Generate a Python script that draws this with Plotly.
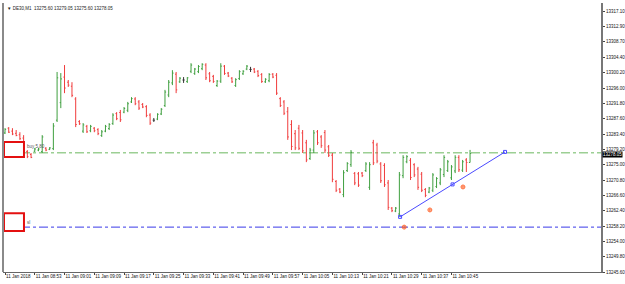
import plotly.graph_objects as go

# ---- data (DE30, M1, 11 Jan 2018 from 08:45, one bar per minute) ----
opens = [13283.7,13285.0,13284.2,13283.6,13283.2,13282.3,13278.6,13277.8,13278.7,13279.0,
         13278.6,13279.5,13279.2,13279.4,13287.2,13292.0,13299.0,13297.6,13296.5,13293.0,
         13286.8,13284.2,13285.5,13284.3,13285.0,13284.6,13283.0,13284.2,13284.9,13286.3,
         13289.0,13289.3,13289.4,13289.9,13292.2,13293.0,13292.2,13291.5,13290.9,13288.6,
         13287.2,13287.5,13288.9,13291.2,13294.1,13297.4,13299.8,13297.7,13298.2,13297.8,
         13300.6,13300.0,13300.5,13301.3,13302.3,13299.9,13299.2,13296.7,13297.9,13302.0,
         13300.1,13298.7,13296.7,13298.6,13299.9,13301.2,13301.1,13301.2,13300.6,13299.7,
         13297.7,13298.0,13299.8,13299.5,13293.1,13292.2,13289.5,13286.0,13283.5,13285.0,
         13283.7,13281.0,13276.7,13279.0,13284.0,13282.6,13283.8,13279.9,13277.6,13270.4,
         13268.3,13266.8,13273.4,13275.0,13272.6,13272.5,13272.7,13273.4,13268.8,13281.0,
         13280.4,13275.2,13274.8,13270.0,13263.1,13262.3,13261.5,13272.0,13275.8,13276.2,
         13275.0,13273.8,13272.4,13268.2,13267.5,13268.0,13269.0,13270.0,13272.3,13273.4,
         13271.4,13273.3,13277.0,13273.5,13276.3,13275.60]
highs = [13285.0,13285.3,13285.0,13284.5,13283.9,13283.1,13279.0,13278.2,13279.6,13279.6,
         13283.1,13279.8,13279.8,13286.4,13300.4,13300.1,13302.3,13298.2,13297.6,13293.5,
         13287.2,13286.4,13285.9,13285.9,13285.3,13285.0,13284.5,13285.9,13286.4,13289.1,
         13289.4,13290.0,13290.8,13292.2,13293.5,13293.5,13292.7,13291.9,13291.3,13289.1,
         13287.8,13289.1,13290.5,13295.5,13298.2,13300.9,13300.4,13299.0,13299.0,13299.0,
         13302.8,13301.5,13302.3,13302.8,13302.8,13300.4,13299.6,13298.2,13302.8,13302.3,
         13300.4,13299.0,13298.7,13300.9,13300.9,13302.3,13301.8,13301.5,13300.9,13300.1,
         13298.7,13300.1,13300.1,13300.1,13293.5,13292.7,13290.8,13287.2,13284.5,13285.9,
         13284.5,13281.8,13279.6,13284.5,13284.5,13283.1,13284.5,13280.4,13278.2,13270.8,
         13268.6,13273.5,13275.7,13279.0,13273.0,13273.0,13273.0,13275.7,13275.7,13281.8,
         13281.0,13275.7,13275.4,13270.8,13263.4,13263.4,13273.0,13277.6,13277.6,13276.8,
         13275.4,13274.4,13273.0,13268.6,13268.9,13272.7,13271.6,13274.1,13277.6,13276.3,
         13274.9,13277.6,13277.6,13276.3,13276.8,13279.05]
lows = [13283.4,13283.7,13283.1,13282.8,13281.8,13281.0,13276.8,13276.8,13278.5,13278.7,
        13278.2,13278.7,13279.0,13279.0,13286.7,13290.5,13294.6,13296.3,13293.5,13285.3,
        13285.9,13283.7,13283.7,13283.9,13283.9,13283.1,13282.6,13283.9,13284.5,13285.9,
        13287.2,13286.7,13289.1,13289.4,13291.9,13291.3,13290.0,13290.5,13288.0,13285.9,
        13286.7,13287.2,13288.6,13290.8,13293.5,13296.8,13294.6,13297.4,13297.4,13297.4,
        13300.1,13299.6,13300.1,13300.9,13298.2,13297.6,13297.4,13296.3,13297.4,13299.6,
        13299.0,13297.4,13296.3,13298.2,13299.6,13300.9,13300.4,13300.1,13299.0,13297.4,
        13297.4,13297.6,13298.7,13294.1,13290.8,13288.6,13281.8,13279.0,13279.0,13279.0,
        13278.2,13275.7,13276.3,13278.2,13280.4,13279.6,13278.2,13277.1,13270.2,13267.5,
        13267.2,13266.1,13273.0,13274.4,13269.4,13268.9,13271.6,13273.0,13268.1,13274.9,
        13275.4,13270.0,13268.9,13262.6,13262.0,13262.0,13260.7,13271.3,13275.4,13270.8,
        13271.6,13268.1,13267.5,13266.1,13267.2,13267.5,13268.6,13269.4,13271.6,13273.0,
        13270.8,13272.7,13273.0,13273.0,13273.0,13275.60]
closes = [13284.7,13283.9,13283.4,13283.0,13282.1,13281.3,13277.2,13277.0,13279.3,13279.3,
          13282.6,13279.0,13279.6,13285.6,13298.8,13298.5,13296.0,13296.8,13294.0,13286.0,
          13286.2,13285.9,13284.0,13285.5,13284.3,13283.5,13284.0,13285.5,13286.0,13288.6,
          13287.6,13287.3,13290.4,13291.7,13293.1,13291.7,13290.5,13290.8,13288.5,13286.4,
          13287.2,13288.8,13290.2,13294.9,13297.6,13300.1,13295.5,13298.7,13298.2,13298.8,
          13302.3,13301.2,13301.9,13302.5,13298.8,13298.0,13297.8,13297.9,13302.0,13300.0,
          13299.3,13297.7,13298.3,13300.5,13300.6,13302.0,13301.1,13300.4,13299.4,13297.8,
          13298.4,13299.7,13299.0,13294.6,13291.2,13289.1,13282.6,13280.0,13279.6,13279.5,
          13278.8,13276.3,13279.0,13283.7,13281.0,13280.2,13279.0,13277.6,13271.0,13268.0,
          13267.5,13272.8,13275.3,13278.4,13270.0,13269.4,13272.0,13275.2,13275.0,13275.5,
          13276.0,13270.6,13269.5,13263.3,13262.4,13263.1,13272.2,13277.0,13277.2,13271.5,
          13272.2,13268.8,13268.0,13266.6,13268.6,13272.2,13271.2,13273.6,13277.0,13275.8,
          13274.4,13277.0,13273.6,13275.8,13275.6,13278.05]

time_tick_bars = [0, 8, 16, 24, 32, 40, 48, 56, 64, 72, 80, 88, 96, 104, 112, 120]
time_tick_labels = ["11 Jan 2018", "11 Jan 08:53", "11 Jan 09:01", "11 Jan 09:09",
                    "11 Jan 09:17", "11 Jan 09:25", "11 Jan 09:33", "11 Jan 09:41",
                    "11 Jan 09:49", "11 Jan 09:57", "11 Jan 10:05", "11 Jan 10:13",
                    "11 Jan 10:21", "11 Jan 10:29", "11 Jan 10:37", "11 Jan 10:45"]
price_ticks = [13317.10, 13312.90, 13308.70, 13304.40, 13300.20, 13296.00, 13291.80,
               13287.60, 13283.40, 13279.20, 13275.00, 13270.80, 13266.60, 13262.40,
               13258.20, 13254.00, 13249.80, 13245.60]

buy_level = 13278.3
sl_level = 13257.9
current_price = 13278.05
trend_bars = [106.2, 120.3, 134.4]
trend_prices = [13260.7, 13269.6, 13278.5]
arrow_bars = [107.3, 114.2, 123.1]
arrow_prices = [13257.9, 13262.6, 13268.9]
header = "▼ DE30,M1  13275.60 13279.05 13275.60 13278.05"

# ---- figure ----
bars = list(range(len(opens)))
normal = [i for i in bars if opens[i] != closes[i]]
doji = [i for i in bars if opens[i] == closes[i]]

fig = go.Figure()
fig.add_trace(go.Ohlc(
    x=normal, open=[opens[i] for i in normal], high=[highs[i] for i in normal],
    low=[lows[i] for i in normal], close=[closes[i] for i in normal],
    increasing=dict(line=dict(color="#3f9f3f", width=1)),
    decreasing=dict(line=dict(color="#f03c3c", width=1)),
    tickwidth=0.3, hoverinfo="skip", showlegend=False))
fig.add_trace(go.Ohlc(
    x=doji, open=[opens[i] for i in doji], high=[highs[i] for i in doji],
    low=[lows[i] for i in doji], close=[closes[i] for i in doji],
    increasing=dict(line=dict(color="#333333", width=1)),
    decreasing=dict(line=dict(color="#333333", width=1)),
    tickwidth=0.3, hoverinfo="skip", showlegend=False))

# horizontal order lines
fig.add_hline(y=buy_level, line=dict(color="#9ccf94", width=1.5, dash="dashdot"), layer="below")
fig.add_hline(y=sl_level, line=dict(color="#3a3ae8", width=1, dash="dashdot"), layer="below")

# trend line
fig.add_trace(go.Scatter(
    x=trend_bars, y=trend_prices, mode="lines+markers",
    line=dict(color="#4a4aff", width=1),
    marker=dict(symbol="square-open", size=3, color="#4a4aff"),
    hoverinfo="skip", showlegend=False))
# arrow icons
fig.add_trace(go.Scatter(
    x=arrow_bars, y=arrow_prices, mode="markers",
    marker=dict(symbol="circle-cross-open", size=4, color="#ff5a1e", line=dict(width=0.8)),
    hoverinfo="skip", showlegend=False))

# red highlight boxes
for y0, y1 in [(13277.1, 13281.2), (13256.8, 13261.7)]:
    fig.add_shape(type="rect", x0=-0.27, x1=5.1, y0=y0, y1=y1,
                  line=dict(color="#e41010", width=2), fillcolor="white", layer="above")

small = dict(family="Liberation Sans, Arial", size=4.5, color="#555555")
fig.add_annotation(x=5.4, y=buy_level + 0.35, text="buy 5.80", showarrow=False,
                   xanchor="left", yanchor="bottom", font=small)
fig.add_annotation(x=5.4, y=sl_level, text="sl", showarrow=False,
                   xanchor="left", yanchor="bottom", font=small)
fig.add_annotation(xref="paper", yref="paper", x=0.003, y=0.998, text=header,
                   showarrow=False, xanchor="left", yanchor="top",
                   font=dict(family="Liberation Sans, Arial", size=4.5, color="#222222"))
# current price tag
fig.add_annotation(xref="paper", x=1, y=current_price, text=f"{current_price:.2f}",
                   showarrow=False, xanchor="left", yanchor="top", yshift=3, xshift=1,
                   bgcolor="#000000", borderpad=0,
                   font=dict(family="Liberation Sans, Arial", size=4.5, color="#ffffff"))

# left window frame
fig.add_shape(type="line", xref="paper", yref="paper", x0=0, x1=0, y0=0, y1=1,
              line=dict(color="#8a8a8a", width=2))

axis_font = dict(family="Liberation Sans, Arial", size=4.5, color="#111111")
fig.update_layout(
    width=625, height=284,
    margin=dict(l=3, r=24, t=3, b=12, autoexpand=False),
    paper_bgcolor="white", plot_bgcolor="white",
    font=dict(family="Liberation Sans, Arial", size=4.5),
    xaxis=dict(range=[-0.54, 160.2], rangeslider=dict(visible=False),
               tickvals=time_tick_bars, ticktext=time_tick_labels, tickangle=0,
               ticks="outside", ticklen=2, tickcolor="#444444", automargin=False,
               ticklabelposition="outside right", tickfont=axis_font,
               showgrid=False, zeroline=False, showline=True,
               linecolor="#666666", linewidth=1),
    yaxis=dict(range=[13245.6, 13319.3], side="right", automargin=False,
               tickvals=price_ticks, ticktext=[f"{v:.2f}" for v in price_ticks],
               ticks="outside", ticklen=2, tickcolor="#444444", tickfont=axis_font,
               showgrid=False, zeroline=False, showline=True,
               linecolor="#777777", linewidth=2),
)

fig.write_html("out.html")
